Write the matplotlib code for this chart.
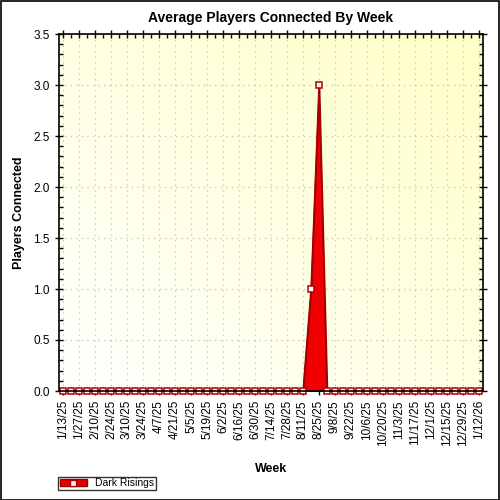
import numpy as np
import pandas as pd
import matplotlib
matplotlib.use('Agg')
import matplotlib.pyplot as plt
from matplotlib.patches import Patch
from matplotlib.lines import Line2D
from matplotlib.legend_handler import HandlerTuple

plt.rcParams['font.family'] = ['Liberation Sans', 'DejaVu Sans']

# data
weeks = pd.date_range('2025-01-13', periods=53, freq='7D')
week_labels = [f"{d.month}/{d.day}/{d.strftime('%y')}" for d in weeks]
players = [0, 0, 0, 0, 0, 0, 0, 0, 0, 0,
           0, 0, 0, 0, 0, 0, 0, 0, 0, 0,
           0, 0, 0, 0, 0, 0, 0, 0, 0, 0,
           0, 1, 3, 0, 0, 0, 0, 0, 0, 0,
           0, 0, 0, 0, 0, 0, 0, 0, 0, 0,
           0, 0, 0]
series_name = 'Dark Risings'

x = np.arange(len(weeks))

fig = plt.figure(figsize=(5, 5), dpi=100)
ax = fig.add_axes([0.118, 0.218, 0.848, 0.714])

# background gradient (white bottom-left -> light yellow top-right)
gx, gy = np.meshgrid(np.linspace(0, 1, 200), np.linspace(0, 1, 200))
t = (gx + gy) / 2
bg = np.zeros((200, 200, 3))
bg[..., 0] = 1.0
bg[..., 1] = 1.0
bg[..., 2] = 1.0 - 0.22 * t
ax.imshow(bg, extent=(0, 1, 0, 1), transform=ax.transAxes, origin='lower',
          aspect='auto', zorder=0)

ax.fill_between(x, players, 0, color='#f00000', edgecolor='#a00000', lw=1.2, zorder=3)
ax.plot(x, players, color='#a00000', lw=1, marker='s', ms=4.3,
        mfc='white', mec='#b00000', mew=1.1, zorder=4, clip_on=False)

ax.set_xlim(-0.5, 52.5)
ax.set_ylim(0, 3.5)
ax.set_xticks(x[::2])
ax.set_xticklabels(week_labels[::2], rotation=90, fontsize=8.5)
ax.set_xticks(x, minor=True)
ax.set_yticks(np.arange(0, 3.51, 0.5))
ax.set_yticklabels([f'{v:.1f}' for v in np.arange(0, 3.51, 0.5)], fontsize=8.5)
ax.set_yticks(np.arange(0, 3.51, 0.1), minor=True)
ax.tick_params(which='major', direction='inout', length=6, width=1,
               top=True, right=True)
ax.tick_params(which='minor', direction='in', length=3, width=1,
               top=True, right=True)
ax.grid(True, which='major', color='#c8c8c8', linestyle=(0, (1, 3)), lw=1, zorder=1)
ax.set_axisbelow(False)
for s in ax.spines.values():
    s.set_linewidth(1.2)
    s.set_zorder(5)

ax.set_title('Average Players Connected By Week', fontsize=10, fontweight='bold', pad=9)
ax.set_ylabel('Players Connected', fontsize=9, fontweight='bold', labelpad=6)
ax.set_xlabel('Week', fontsize=9, fontweight='bold', labelpad=12)

handle = (Patch(facecolor='#e00000', edgecolor='#a00000'),
          Line2D([], [], ls='none', marker='s', ms=4.5, mfc='white', mec='#b00000'))
leg = fig.legend([handle], [series_name], handler_map={tuple: HandlerTuple()},
                 loc='lower left', bbox_to_anchor=(0.116, 0.02), fontsize=7.5,
                 frameon=True, fancybox=False, borderpad=0.15, handlelength=2.6,
                 handleheight=0.6, borderaxespad=0)
leg.get_frame().set_edgecolor('black')
leg.get_frame().set_linewidth(1)

fig.patches.append(plt.Rectangle((0.001, 0.001), 0.997, 0.997, transform=fig.transFigure,
                                 fill=False, edgecolor='black', lw=1.2))

fig.savefig('out.png', dpi=100)
